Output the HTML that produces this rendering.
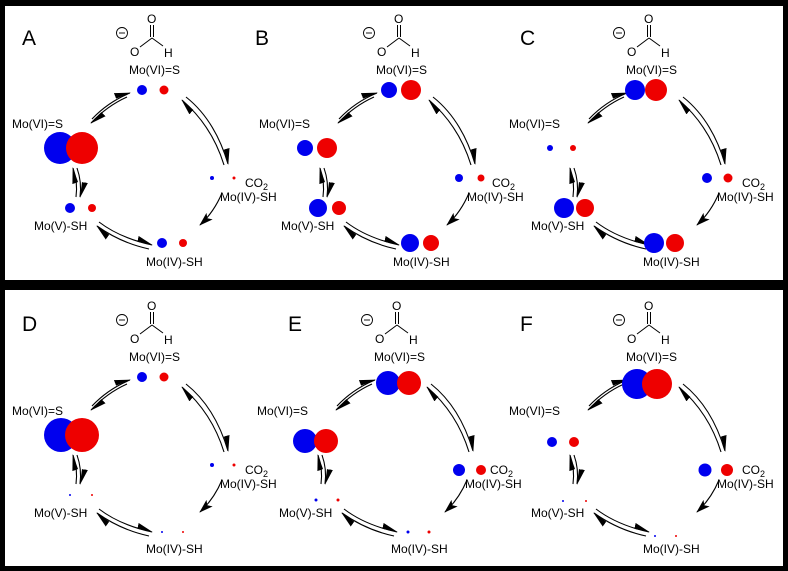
<!DOCTYPE html>
<html><head><meta charset="utf-8"><style>
html,body{margin:0;padding:0;background:#000}
svg{display:block}
text{font-family:"Liberation Sans",Arial,sans-serif;font-size:12px;fill:#000}
.l{font-size:21px}
</style></head><body>
<svg width="788" height="571" viewBox="0 0 788 571" xmlns="http://www.w3.org/2000/svg">
<defs>
<marker id="h" viewBox="0 0 16 7" refX="15" refY="6" markerWidth="16" markerHeight="7" markerUnits="userSpaceOnUse" orient="auto"><path d="M0,0 L16,6 L0,6 z" fill="#000"/></marker>
<marker id="f" viewBox="0 0 14 9" refX="13" refY="4.5" markerWidth="14" markerHeight="9" markerUnits="userSpaceOnUse" orient="auto"><path d="M0,0 L14,4.5 L0,9 L3,4.5 z" fill="#000"/></marker>
<g id="cyc">
  <circle cx="122" cy="33" r="5.5" fill="none" stroke="#000" stroke-width="0.9"/>
  <line x1="119" y1="33" x2="125" y2="33" stroke="#000" stroke-width="0.9"/>
  <text x="130" y="56">O</text>
  <line x1="140" y1="47" x2="152" y2="38" stroke="#000" stroke-width="1"/>
  <line x1="152" y1="38" x2="163" y2="46" stroke="#000" stroke-width="1"/>
  <line x1="150.5" y1="37" x2="150.5" y2="25" stroke="#000" stroke-width="1"/>
  <line x1="153.5" y1="37" x2="153.5" y2="25" stroke="#000" stroke-width="1"/>
  <text x="147" y="23">O</text>
  <text x="164" y="57">H</text>
  <text x="129" y="74">Mo(VI)=S</text>
  <text x="12" y="128">Mo(VI)=S</text>
  <text x="245" y="187">CO<tspan font-size="9" dy="3">2</tspan></text>
  <text x="220" y="201">Mo(IV)-SH</text>
  <text x="146" y="266">Mo(IV)-SH</text>
  <text x="34" y="230">Mo(V)-SH</text>
  <g fill="none" stroke="#000" stroke-width="1.1">
    <path d="M92,119 Q108,102 130,93" marker-end="url(#h)"/>
    <path d="M127,97 Q107,106 91,123" marker-end="url(#h)"/>
    <path d="M186,97 Q215,120 228,164" marker-end="url(#h)"/>
    <path d="M224,165 Q212,126 182,100" marker-end="url(#h)"/>
    <path d="M222,193 Q214,212 200,225" marker-end="url(#f)"/>
    <path d="M99,222 Q120,238 152,245" marker-end="url(#h)"/>
    <path d="M149,249 Q121,243 97,226" marker-end="url(#h)"/>
    <path d="M77,168 Q82,182 80,197" marker-end="url(#h)"/>
    <path d="M76,197 Q78,182 73,168" marker-end="url(#h)"/>
  </g>
</g>
</defs>
<rect x="5" y="6" width="778" height="274" fill="#fff"/>
<rect x="5" y="290" width="778" height="276" fill="#fff"/>

<text class="l" x="22" y="45">A</text>
<use href="#cyc"/>
<circle cx="142" cy="90" r="5" fill="#0000ee"/><circle cx="164" cy="90" r="4.5" fill="#ee0000"/>
<circle cx="60" cy="148" r="16" fill="#0000ee"/><circle cx="82" cy="148" r="16" fill="#ee0000"/>
<circle cx="212" cy="178" r="2" fill="#0000ee"/><circle cx="234" cy="178" r="1.5" fill="#ee0000"/>
<circle cx="162" cy="243" r="5" fill="#0000ee"/><circle cx="183" cy="243" r="4" fill="#ee0000"/>
<circle cx="70" cy="208" r="5" fill="#0000ee"/><circle cx="92" cy="208" r="4" fill="#ee0000"/>

<text class="l" x="255" y="45">B</text>
<use href="#cyc" transform="translate(247,0)"/>
<circle cx="389" cy="90" r="8" fill="#0000ee"/><circle cx="411" cy="90" r="10" fill="#ee0000"/>
<circle cx="305" cy="148" r="8" fill="#0000ee"/><circle cx="327" cy="148" r="10" fill="#ee0000"/>
<circle cx="459" cy="178" r="4" fill="#0000ee"/><circle cx="481" cy="178" r="3.5" fill="#ee0000"/>
<circle cx="410" cy="243" r="9" fill="#0000ee"/><circle cx="431" cy="243" r="8" fill="#ee0000"/>
<circle cx="318" cy="208" r="9" fill="#0000ee"/><circle cx="339" cy="208" r="7" fill="#ee0000"/>

<text class="l" x="520" y="45">C</text>
<use href="#cyc" transform="translate(497,0)"/>
<circle cx="635" cy="90" r="10" fill="#0000ee"/><circle cx="656" cy="90" r="11" fill="#ee0000"/>
<circle cx="550" cy="148" r="3" fill="#0000ee"/><circle cx="573" cy="148" r="3" fill="#ee0000"/>
<circle cx="707" cy="178" r="5" fill="#0000ee"/><circle cx="728" cy="178" r="4.5" fill="#ee0000"/>
<circle cx="654" cy="243" r="10" fill="#0000ee"/><circle cx="675" cy="243" r="9" fill="#ee0000"/>
<circle cx="564" cy="208" r="10" fill="#0000ee"/><circle cx="585" cy="208" r="9" fill="#ee0000"/>

<text class="l" x="22" y="331">D</text>
<use href="#cyc" transform="translate(0,287)"/>
<circle cx="142" cy="377" r="5" fill="#0000ee"/><circle cx="164" cy="377" r="4.5" fill="#ee0000"/>
<circle cx="61" cy="435" r="17" fill="#0000ee"/><circle cx="82" cy="435" r="17" fill="#ee0000"/>
<circle cx="212" cy="465" r="2" fill="#0000ee"/><circle cx="234" cy="465" r="1.5" fill="#ee0000"/>
<circle cx="162" cy="532" r="1" fill="#0000ee"/><circle cx="183" cy="532" r="1" fill="#ee0000"/>
<circle cx="70" cy="495" r="1" fill="#0000ee"/><circle cx="92" cy="495" r="1" fill="#ee0000"/>

<text class="l" x="288" y="331">E</text>
<use href="#cyc" transform="translate(245,287)"/>
<circle cx="388" cy="383" r="12" fill="#0000ee"/><circle cx="409" cy="383" r="12" fill="#ee0000"/>
<circle cx="305" cy="441" r="12" fill="#0000ee"/><circle cx="326" cy="441" r="12" fill="#ee0000"/>
<circle cx="459" cy="470" r="6" fill="#0000ee"/><circle cx="481" cy="470" r="5" fill="#ee0000"/>
<circle cx="408" cy="532" r="1.5" fill="#0000ee"/><circle cx="429" cy="532" r="1.5" fill="#ee0000"/>
<circle cx="316" cy="500" r="1.5" fill="#0000ee"/><circle cx="338" cy="500" r="1.5" fill="#ee0000"/>

<text class="l" x="520" y="331">F</text>
<use href="#cyc" transform="translate(497,287)"/>
<circle cx="637" cy="384" r="15" fill="#0000ee"/><circle cx="657" cy="384" r="15" fill="#ee0000"/>
<circle cx="552" cy="442" r="5" fill="#0000ee"/><circle cx="574" cy="442" r="5" fill="#ee0000"/>
<circle cx="705" cy="470" r="6.5" fill="#0000ee"/><circle cx="727" cy="470" r="6" fill="#ee0000"/>
<circle cx="655" cy="536" r="1" fill="#0000ee"/><circle cx="676" cy="536" r="1" fill="#ee0000"/>
<circle cx="563" cy="501" r="1" fill="#0000ee"/><circle cx="586" cy="501" r="1" fill="#ee0000"/>
</svg>
</body></html>
